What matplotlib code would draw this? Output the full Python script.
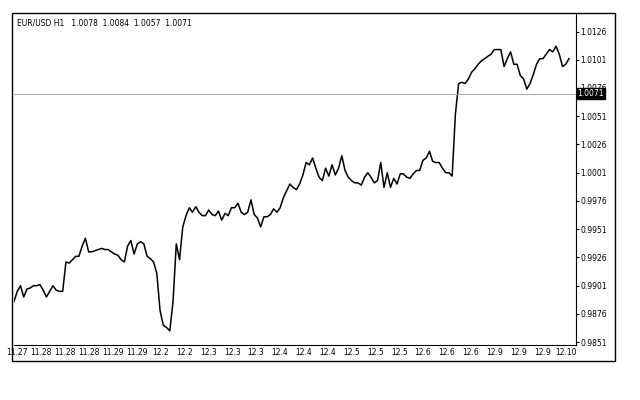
import numpy as np
import matplotlib.pyplot as plt
from matplotlib.patches import Rectangle

# EUR/USD hourly closes
prices = [
    0.9887, 0.9896, 0.9901, 0.9891, 0.9898, 0.9899, 0.9901, 0.9901, 0.9902, 0.9897, 0.9891, 0.9896, 0.9901, 0.9897, 0.9896, 0.9896,
    0.9922, 0.9921, 0.9924, 0.9927, 0.9927, 0.9936, 0.9943, 0.9931, 0.9931, 0.9932, 0.9933, 0.9934, 0.9933, 0.9933, 0.9931, 0.9929,
    0.9928, 0.9924, 0.9922, 0.9936, 0.9941, 0.9929, 0.9938, 0.9940, 0.9938, 0.9927, 0.9925, 0.9922, 0.9912, 0.9879, 0.9866, 0.9864,
    0.9861, 0.9887, 0.9938, 0.9924, 0.9953, 0.9963, 0.9970, 0.9966, 0.9971, 0.9966, 0.9963, 0.9963, 0.9968, 0.9964, 0.9963, 0.9967,
    0.9959, 0.9965, 0.9963, 0.9970, 0.9970, 0.9974, 0.9966, 0.9964, 0.9966, 0.9977, 0.9964, 0.9961, 0.9953, 0.9962, 0.9962, 0.9964,
    0.9969, 0.9966, 0.9970, 0.9979, 0.9985, 0.9991, 0.9988, 0.9986, 0.9991, 0.9999, 1.0010, 1.0008, 1.0014, 1.0005, 0.9997, 0.9994,
    1.0005, 0.9998, 1.0008, 0.9999, 1.0005, 1.0016, 1.0003, 0.9997, 0.9994, 0.9992, 0.9992, 0.9990, 0.9997, 1.0001, 0.9997, 0.9992,
    0.9994, 1.0010, 0.9988, 1.0001, 0.9988, 0.9996, 0.9991, 1.0000, 1.0000, 0.9997, 0.9996, 1.0000, 1.0003, 1.0003, 1.0012, 1.0014,
    1.0020, 1.0011, 1.0010, 1.0010, 1.0005, 1.0001, 1.0001, 0.9998, 1.0053, 1.0080, 1.0081, 1.0080, 1.0084, 1.0090, 1.0093, 1.0097,
    1.0100, 1.0102, 1.0104, 1.0106, 1.0110, 1.0110, 1.0110, 1.0095, 1.0102, 1.0108, 1.0097, 1.0097, 1.0087, 1.0084, 1.0075, 1.0080,
    1.0088, 1.0097, 1.0102, 1.0102, 1.0106, 1.0110, 1.0108, 1.0113, 1.0106, 1.0095, 1.0097, 1.0102,
]
last_price = 1.0071
y_ticks = [0.9851, 0.9876, 0.9901, 0.9926, 0.9951, 0.9976, 1.0001, 1.0026, 1.0051, 1.0076, 1.0101, 1.0126]
x_labels = ["11.27", "11.28", "11.28", "11.28", "11.29", "11.29", "12.2", "12.2", "12.3", "12.3",
            "12.3", "12.4", "12.4", "12.4", "12.5", "12.5", "12.5", "12.6", "12.6", "12.6",
            "12.9", "12.9", "12.9", "12.10"]
title = "EUR/USD H1   1.0078  1.0084  1.0057  1.0071"

fig = plt.figure(figsize=(6.4, 4), dpi=100)
fig.patches.append(Rectangle((12/640, 1-361/400), 603/640, 348/400, transform=fig.transFigure,
                             fill=False, edgecolor='black', linewidth=1))
ax = fig.add_axes([14/640, 55/400, 562/640, 331/400])

n = len(prices)
x = np.arange(n)
ax.plot(x, prices, color='black', linewidth=1.1)
ax.axhline(last_price, color='#b0b0b0', linewidth=0.8)

xmax = (n - 1) * 562 / 555
ax.set_xlim(0, xmax)
ax.set_ylim(0.98485, 1.01415)

ax.yaxis.tick_right()
ax.set_yticks(y_ticks)
ax.set_yticklabels(["%.4f" % v for v in y_ticks], fontsize=5.5)
ax.tick_params(axis='y', length=2, pad=1)
ax.text(1.003, last_price, "%.4f" % last_price, transform=ax.get_yaxis_transform(),
        fontsize=5.5, color='white', va='center', ha='left',
        bbox=dict(boxstyle='square,pad=0.15', fc='black', ec='black'))

tick_pos = np.linspace(1, xmax - 3, len(x_labels))
ax.set_xticks(tick_pos)
ax.set_xticklabels(x_labels, fontsize=5.5)
ax.tick_params(axis='x', length=0, pad=2)

for s in ['top', 'left']:
    ax.spines[s].set_visible(False)
ax.spines['right'].set_linewidth(0.8)
ax.spines['bottom'].set_linewidth(0.8)

ax.text(0.006, 0.985, title, transform=ax.transAxes, fontsize=5.5, va='top', ha='left')

fig.savefig("out.png", dpi=100)
